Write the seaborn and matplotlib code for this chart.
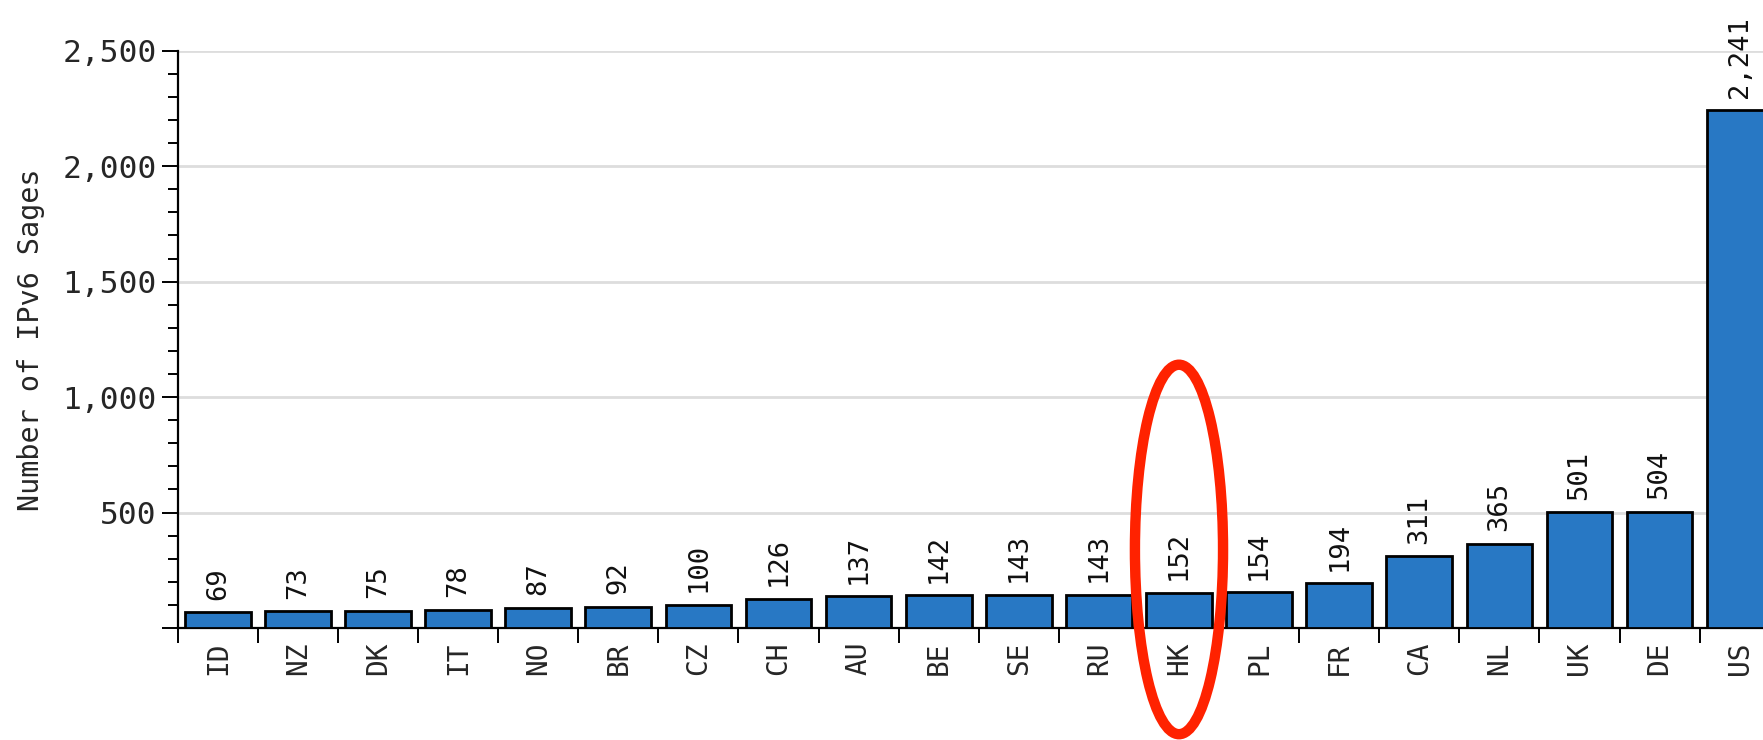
import numpy as np
import matplotlib
matplotlib.use("Agg")
import matplotlib.pyplot as plt
from matplotlib.patches import Ellipse
from matplotlib.ticker import FuncFormatter, MultipleLocator, FixedLocator
import seaborn as sns

countries = ["ID", "NZ", "DK", "IT", "NO", "BR", "CZ", "CH", "AU", "BE",
             "SE", "RU", "HK", "PL", "FR", "CA", "NL", "UK", "DE", "US"]
sages = [69, 73, 75, 78, 87, 92, 100, 126, 137, 142,
         143, 143, 152, 154, 194, 311, 365, 501, 504, 2241]
highlight = "HK"

sns.set_style("white")
plt.rcParams["font.family"] = ["DejaVu Sans Mono", "DejaVu Sans"]

fig = plt.figure(figsize=(17.63, 7.40), dpi=100)
ax = fig.add_axes([0.1008, 0.1514, 0.9087, 0.7801])

sns.barplot(x=countries, y=sages, color="#2878C4", edgecolor="black",
            linewidth=2, width=0.82, saturation=1, ax=ax, zorder=3)

ax.set_xlim(-0.5, len(countries) - 0.5)
ax.set_ylim(0, 2500)

# value labels above each bar
ax.bar_label(ax.containers[0], labels=[f"{v:,}" for v in sages],
             rotation=90, padding=9, fontsize=19.5, color="#111111")

# y axis: major every 500, minor every 100
ax.yaxis.set_major_locator(MultipleLocator(500))
ax.yaxis.set_minor_locator(MultipleLocator(100))
ax.yaxis.set_major_formatter(FuncFormatter(lambda v, p: f"{int(v):,}" if v > 0 else ""))
ax.tick_params(axis="y", which="major", length=11.5, width=1.4, pad=3.5,
               labelsize=22.5, direction="out", left=True, color="black")
ax.tick_params(axis="y", which="minor", length=7, width=1.4, direction="out",
               left=True, color="black")

# x axis: labels at centres, ticks at category boundaries
ax.xaxis.set_minor_locator(FixedLocator(np.arange(-0.5, len(countries), 1.0)))
ax.tick_params(axis="x", which="major", length=0, pad=10, labelsize=20,
               labelrotation=90)
ax.tick_params(axis="x", which="minor", length=11, width=1.4, direction="out",
               bottom=True, color="black")

ax.grid(axis="y", which="major", color="#DDDDDD", linewidth=2, zorder=0)
ax.set_axisbelow(True)
for s in ["top", "right"]:
    ax.spines[s].set_visible(False)
for s in ["left", "bottom"]:
    ax.spines[s].set_color("black")
    ax.spines[s].set_linewidth(1.6)

ax.set_xlabel("")
ax.set_ylabel("Number of IPv6 Sages", fontsize=20.5)
ax.yaxis.set_label_coords(-0.083, 0.5)

# red ring around the highlighted country
hk = countries.index(highlight)
ax.add_patch(Ellipse((hk, 340), width=1.1, height=1600, fill=False,
                     edgecolor="#FF2200", linewidth=7.5, clip_on=False, zorder=5))

fig.savefig("out.png", dpi=100)
